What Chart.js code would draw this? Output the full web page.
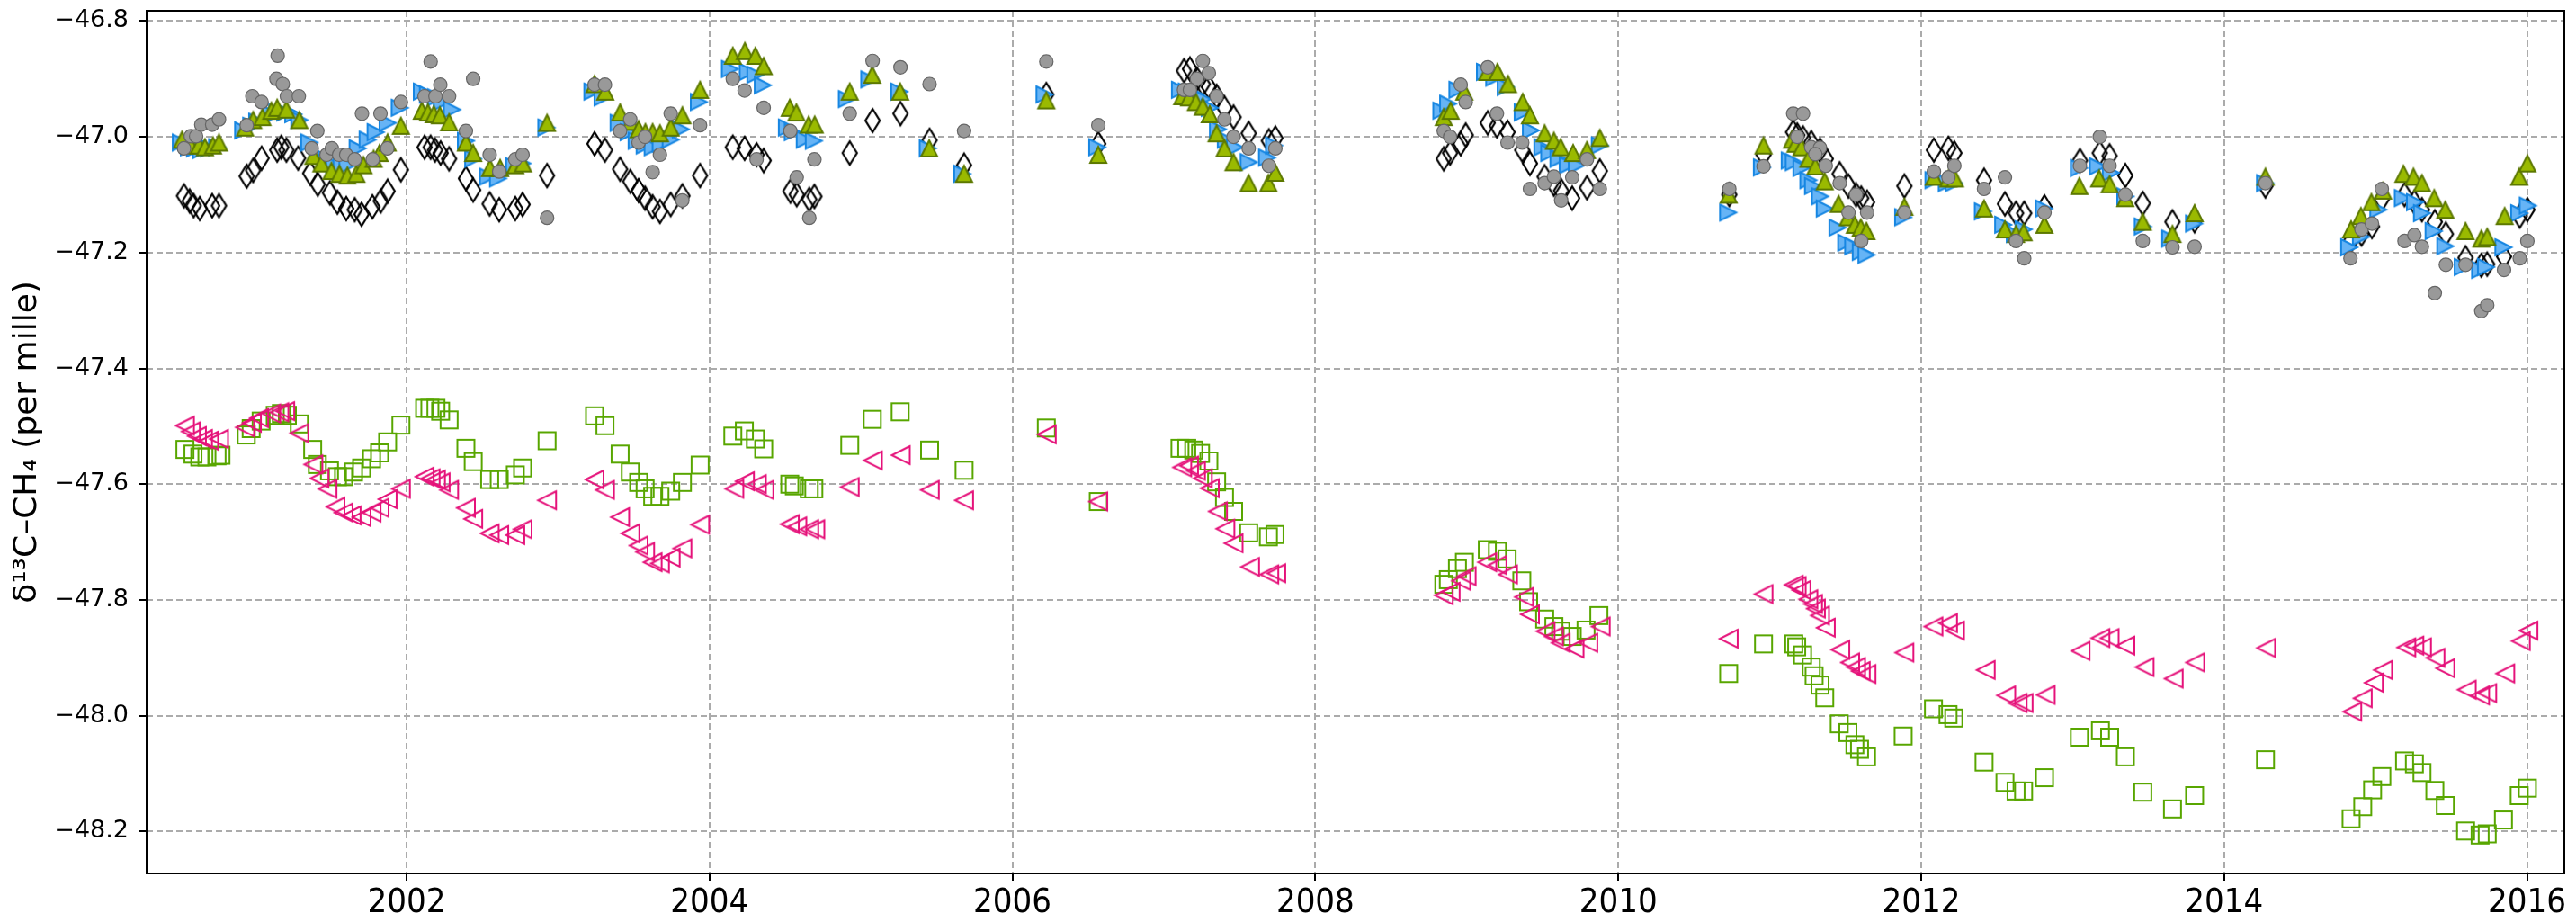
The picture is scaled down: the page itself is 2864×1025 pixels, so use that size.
<!DOCTYPE html>
<html>
<head>
<meta charset="utf-8">
<script src="https://cdn.jsdelivr.net/npm/chart.js@4.4.1/dist/chart.umd.min.js"></script>
<style>
html, body { margin: 0; padding: 0; background: #ffffff; }
canvas { display: block; }
</style>
</head>
<body>
<canvas id="d13cChart" width="2864" height="1025"></canvas>
<script>
// delta 13C of CH4 - six station records

const xTickYears = [2002, 2004, 2006, 2008, 2010, 2012, 2014, 2016];
const yTickValues = [-48.2, -48.0, -47.8, -47.6, -47.4, -47.2, -47.0, -46.8];

// grey circles
const circleYears = [2000.531, 2000.576, 2000.611, 2000.645, 2000.717, 2000.762, 2000.945, 2000.982, 2001.043, 2001.149,
    2001.141, 2001.183, 2001.210, 2001.289, 2001.411, 2001.374, 2001.472, 2001.507, 2001.555, 2001.602,
    2001.658, 2001.706, 2001.777, 2001.828, 2001.873, 2001.963, 2002.119, 2002.159, 2002.191, 2002.223,
    2002.281, 2002.392, 2002.440, 2002.549, 2002.612, 2002.718, 2002.766, 2002.928, 2003.241, 2003.310,
    2003.410, 2003.477, 2003.532, 2003.575, 2003.625, 2003.673, 2003.744, 2003.821, 2003.938, 2004.154,
    2004.232, 2004.358, 2004.311, 2004.534, 2004.576, 2004.693, 2004.659, 2004.926, 2005.077, 2005.261,
    2005.453, 2005.681, 2006.224, 2006.567, 2007.257, 2007.297, 2007.218, 2007.133, 2007.172, 2007.348,
    2007.400, 2007.460, 2007.560, 2007.736, 2007.693, 2008.848, 2008.890, 2008.960, 2008.993, 2009.138,
    2009.199, 2009.269, 2009.366, 2009.417, 2009.514, 2009.575, 2009.623, 2009.696, 2009.793, 2009.878,
    2010.733, 2010.959, 2011.155, 2011.220, 2011.182, 2011.274, 2011.332, 2011.301, 2011.370, 2011.462,
    2011.570, 2011.520, 2011.643, 2011.604, 2011.889, 2012.084, 2012.180, 2012.219, 2012.415, 2012.553,
    2012.626, 2012.680, 2012.814, 2013.048, 2013.179, 2013.244, 2013.348, 2013.463, 2013.659, 2013.805,
    2014.273, 2014.834, 2014.907, 2014.976, 2015.041, 2015.191, 2015.256, 2015.306, 2015.391, 2015.464,
    2015.594, 2015.698, 2015.737, 2015.848, 2015.952, 2016.002];
const circleValues = [-47.020, -46.999, -46.999, -46.979, -46.979, -46.970, -46.980, -46.930, -46.940, -46.860,
    -46.900, -46.909, -46.930, -46.930, -46.990, -47.020, -47.031, -47.020, -47.031, -47.031,
    -47.039, -46.960, -47.039, -46.960, -47.020, -46.940, -46.930, -46.870, -46.930, -46.910,
    -46.930, -46.990, -46.900, -47.031, -47.060, -47.039, -47.031, -47.140, -46.910, -46.910,
    -46.990, -46.970, -47.010, -47.000, -47.061, -47.031, -46.960, -47.110, -46.980, -46.900,
    -46.920, -46.950, -47.039, -46.990, -47.070, -47.039, -47.140, -46.960, -46.869, -46.880,
    -46.909, -46.990, -46.870, -46.980, -46.869, -46.890, -46.900, -46.919, -46.919, -46.930,
    -46.970, -47.000, -47.020, -47.020, -47.050, -46.990, -47.000, -46.910, -46.940, -46.880,
    -46.960, -47.010, -47.010, -47.090, -47.080, -47.069, -47.110, -47.070, -47.039, -47.090,
    -47.090, -47.051, -46.960, -46.960, -47.000, -47.018, -47.019, -47.030, -47.050, -47.080,
    -47.100, -47.131, -47.131, -47.180, -47.131, -47.060, -47.070, -47.050, -47.090, -47.070,
    -47.180, -47.210, -47.131, -47.050, -47.000, -47.050, -47.100, -47.180, -47.191, -47.190,
    -47.080, -47.210, -47.160, -47.150, -47.090, -47.180, -47.170, -47.190, -47.270, -47.221,
    -47.221, -47.301, -47.291, -47.230, -47.210, -47.180];

// open black diamonds
const diamondYears = [2000.531, 2000.568, 2000.595, 2000.635, 2000.717, 2000.762, 2000.945, 2000.987, 2001.043, 2001.146,
    2001.173, 2001.207, 2001.284, 2001.364, 2001.414, 2001.494, 2001.544, 2001.602, 2001.658, 2001.703,
    2001.775, 2001.830, 2001.875, 2001.963, 2002.119, 2002.159, 2002.188, 2002.225, 2002.281, 2002.392,
    2002.440, 2002.549, 2002.612, 2002.718, 2002.766, 2002.928, 2003.241, 2003.310, 2003.410, 2003.477,
    2003.532, 2003.575, 2003.625, 2003.673, 2003.744, 2003.821, 2003.938, 2004.154, 2004.232, 2004.311,
    2004.358, 2004.534, 2004.576, 2004.659, 2004.693, 2004.926, 2005.077, 2005.261, 2005.453, 2005.681,
    2006.224, 2006.567, 2007.133, 2007.172, 2007.218, 2007.257, 2007.297, 2007.348, 2007.400, 2007.460,
    2007.560, 2007.693, 2007.736, 2008.848, 2008.890, 2008.960, 2008.993, 2009.138, 2009.199, 2009.269,
    2009.366, 2009.417, 2009.514, 2009.575, 2009.623, 2009.696, 2009.793, 2009.878, 2010.733, 2010.959,
    2011.155, 2011.182, 2011.220, 2011.274, 2011.332, 2011.370, 2011.462, 2011.520, 2011.570, 2011.604,
    2011.643, 2011.889, 2012.084, 2012.180, 2012.219, 2012.415, 2012.553, 2012.626, 2012.680, 2012.814,
    2013.048, 2013.179, 2013.244, 2013.348, 2013.463, 2013.659, 2013.805, 2014.273, 2014.834, 2014.907,
    2014.976, 2015.041, 2015.191, 2015.256, 2015.306, 2015.391, 2015.464, 2015.594, 2015.698, 2015.737,
    2015.848, 2015.952, 2016.002];
const diamondValues = [-47.102, -47.111, -47.119, -47.124, -47.119, -47.119, -47.068, -47.058, -47.037, -47.023,
    -47.018, -47.023, -47.037, -47.063, -47.082, -47.097, -47.113, -47.124, -47.126, -47.134,
    -47.121, -47.111, -47.094, -47.057, -47.018, -47.018, -47.023, -47.028, -47.038, -47.072,
    -47.092, -47.116, -47.126, -47.124, -47.117, -47.067, -47.012, -47.023, -47.056, -47.077,
    -47.093, -47.106, -47.121, -47.129, -47.117, -47.102, -47.067, -47.018, -47.020, -47.031,
    -47.041, -47.094, -47.100, -47.108, -47.103, -47.028, -46.972, -46.960, -47.006, -47.049,
    -46.927, -47.012, -46.886, -46.883, -46.900, -46.909, -46.914, -46.930, -46.950, -46.966,
    -46.994, -47.007, -47.002, -47.038, -47.028, -47.012, -46.997, -46.976, -46.981, -46.992,
    -47.023, -47.046, -47.069, -47.082, -47.093, -47.106, -47.088, -47.059, -47.100, -47.031,
    -46.992, -46.997, -47.002, -47.010, -47.023, -47.038, -47.064, -47.085, -47.100, -47.106,
    -47.113, -47.085, -47.023, -47.020, -47.028, -47.075, -47.116, -47.132, -47.132, -47.121,
    -47.041, -47.028, -47.033, -47.067, -47.115, -47.147, -47.145, -47.085, -47.181, -47.168,
    -47.155, -47.108, -47.100, -47.113, -47.126, -47.147, -47.168, -47.209, -47.222, -47.220,
    -47.207, -47.137, -47.126];

// blue right-pointing triangles
const blueYears = [2000.510, 2000.563, 2000.603, 2000.643, 2000.696, 2000.749, 2000.921, 2000.974, 2001.014, 2001.107,
    2001.146, 2001.199, 2001.252, 2001.292, 2001.358, 2001.411, 2001.472, 2001.523, 2001.571, 2001.610,
    2001.677, 2001.743, 2001.796, 2001.875, 2001.955, 2002.101, 2002.141, 2002.194, 2002.233, 2002.300,
    2002.392, 2002.440, 2002.538, 2002.604, 2002.711, 2002.764, 2002.923, 2003.227, 2003.294, 2003.400,
    2003.466, 2003.519, 2003.572, 2003.625, 2003.678, 2003.744, 2003.811, 2003.930, 2004.135, 2004.253,
    2004.303, 2004.352, 2004.511, 2004.550, 2004.629, 2004.689, 2004.907, 2005.055, 2005.253, 2005.441,
    2005.669, 2006.212, 2006.560, 2007.106, 2007.151, 2007.206, 2007.257, 2007.303, 2007.357, 2007.409,
    2007.469, 2007.560, 2007.681, 2007.727, 2008.832, 2008.877, 2008.938, 2009.120, 2009.181, 2009.257,
    2009.369, 2009.423, 2009.499, 2009.544, 2009.605, 2009.666, 2009.726, 2009.878, 2010.725, 2010.948,
    2011.132, 2011.159, 2011.209, 2011.255, 2011.286, 2011.332, 2011.363, 2011.447, 2011.505, 2011.551,
    2011.601, 2011.639, 2011.881, 2012.081, 2012.169, 2012.215, 2012.407, 2012.541, 2012.618, 2012.676,
    2012.810, 2013.041, 2013.167, 2013.252, 2013.348, 2013.463, 2013.644, 2013.801, 2014.270, 2014.826,
    2014.903, 2015.018, 2015.180, 2015.260, 2015.306, 2015.383, 2015.460, 2015.575, 2015.690, 2015.729,
    2015.844, 2015.948, 2016.005];
const blueValues = [-47.010, -47.018, -47.020, -47.023, -47.020, -47.018, -46.989, -46.981, -46.974, -46.961,
    -46.958, -46.958, -46.961, -46.971, -47.010, -47.031, -47.044, -47.049, -47.049, -47.049,
    -47.020, -47.005, -46.992, -46.976, -46.950, -46.922, -46.927, -46.932, -46.940, -46.953,
    -47.007, -47.038, -47.069, -47.072, -47.051, -47.046, -46.984, -46.922, -46.932, -46.976,
    -46.992, -47.007, -47.015, -47.018, -47.012, -47.005, -46.987, -46.940, -46.883, -46.888,
    -46.893, -46.911, -46.984, -46.992, -47.005, -47.007, -46.935, -46.901, -46.922, -47.020,
    -47.064, -46.927, -47.018, -46.919, -46.922, -46.927, -46.935, -46.950, -46.987, -47.005,
    -47.018, -47.044, -47.036, -47.015, -46.955, -46.943, -46.919, -46.888, -46.898, -46.914,
    -46.958, -46.989, -47.018, -47.028, -47.038, -47.049, -47.049, -47.015, -47.131, -47.053,
    -47.041, -47.044, -47.054, -47.075, -47.085, -47.103, -47.124, -47.157, -47.183, -47.189,
    -47.199, -47.204, -47.139, -47.075, -47.080, -47.080, -47.129, -47.152, -47.168, -47.160,
    -47.124, -47.054, -47.051, -47.062, -47.103, -47.155, -47.176, -47.150, -47.080, -47.191,
    -47.173, -47.126, -47.106, -47.113, -47.132, -47.163, -47.189, -47.225, -47.230, -47.225,
    -47.191, -47.132, -47.119];

// olive upward triangles
const oliveYears = [2000.518, 2000.576, 2000.629, 2000.669, 2000.722, 2000.762, 2000.934, 2000.987, 2001.048, 2001.107,
    2001.146, 2001.207, 2001.292, 2001.385, 2001.438, 2001.504, 2001.557, 2001.610, 2001.669, 2001.716,
    2001.783, 2001.822, 2001.875, 2001.963, 2002.101, 2002.141, 2002.180, 2002.220, 2002.281, 2002.392,
    2002.440, 2002.551, 2002.618, 2002.718, 2002.769, 2002.928, 2003.241, 2003.312, 2003.410, 2003.479,
    2003.532, 2003.577, 2003.625, 2003.673, 2003.744, 2003.821, 2003.938, 2004.154, 2004.234, 2004.303,
    2004.358, 2004.530, 2004.574, 2004.655, 2004.695, 2004.926, 2005.075, 2005.259, 2005.451, 2005.681,
    2006.224, 2006.567, 2007.121, 2007.166, 2007.212, 2007.257, 2007.303, 2007.348, 2007.400, 2007.460,
    2007.560, 2007.690, 2007.736, 2008.848, 2008.893, 2008.984, 2009.135, 2009.202, 2009.272, 2009.369,
    2009.417, 2009.514, 2009.575, 2009.620, 2009.702, 2009.793, 2009.878, 2010.729, 2010.959, 2011.147,
    2011.171, 2011.209, 2011.255, 2011.301, 2011.363, 2011.455, 2011.516, 2011.562, 2011.601, 2011.639,
    2011.889, 2012.084, 2012.180, 2012.223, 2012.415, 2012.553, 2012.626, 2012.676, 2012.814, 2013.044,
    2013.175, 2013.244, 2013.348, 2013.463, 2013.659, 2013.805, 2014.273, 2014.838, 2014.903, 2014.972,
    2015.049, 2015.184, 2015.250, 2015.306, 2015.387, 2015.460, 2015.594, 2015.698, 2015.737, 2015.852,
    2015.948, 2016.002];
const oliveValues = [-47.005, -47.015, -47.015, -47.018, -47.015, -47.010, -46.984, -46.971, -46.966, -46.955,
    -46.950, -46.953, -46.971, -47.033, -47.046, -47.059, -47.064, -47.067, -47.064, -47.049,
    -47.038, -47.028, -47.010, -46.981, -46.955, -46.958, -46.961, -46.963, -46.975, -47.010,
    -47.028, -47.054, -47.054, -47.049, -47.046, -46.976, -46.909, -46.922, -46.958, -46.974,
    -46.987, -46.992, -46.992, -46.994, -46.984, -46.963, -46.919, -46.860, -46.852, -46.860,
    -46.878, -46.950, -46.958, -46.979, -46.979, -46.922, -46.893, -46.922, -47.020, -47.064,
    -46.937, -47.031, -46.930, -46.932, -46.940, -46.948, -46.961, -46.994, -47.020, -47.044,
    -47.080, -47.080, -47.062, -46.966, -46.955, -46.922, -46.888, -46.888, -46.909, -46.940,
    -46.963, -46.994, -47.007, -47.018, -47.028, -47.023, -47.002, -47.100, -47.015, -47.005,
    -47.012, -47.018, -47.038, -47.051, -47.077, -47.116, -47.139, -47.152, -47.157, -47.163,
    -47.121, -47.069, -47.072, -47.072, -47.124, -47.160, -47.168, -47.165, -47.152, -47.085,
    -47.072, -47.082, -47.106, -47.147, -47.168, -47.132, -47.069, -47.160, -47.137, -47.113,
    -47.093, -47.064, -47.069, -47.080, -47.106, -47.126, -47.163, -47.176, -47.173, -47.137,
    -47.069, -47.046];

// open magenta left-pointing triangles
const magentaYears = [2000.537, 2000.576, 2000.616, 2000.656, 2000.696, 2000.762, 2000.934, 2000.979, 2001.027, 2001.107,
    2001.160, 2001.199, 2001.292, 2001.385, 2001.425, 2001.478, 2001.531, 2001.584, 2001.637, 2001.703,
    2001.769, 2001.822, 2001.875, 2001.963, 2002.119, 2002.159, 2002.194, 2002.225, 2002.281, 2002.392,
    2002.440, 2002.549, 2002.612, 2002.718, 2002.766, 2002.928, 2003.241, 2003.310, 2003.410, 2003.477,
    2003.532, 2003.575, 2003.625, 2003.673, 2003.744, 2003.821, 2003.938, 2004.164, 2004.234, 2004.313,
    2004.362, 2004.530, 2004.580, 2004.659, 2004.699, 2004.926, 2005.079, 2005.263, 2005.455, 2005.681,
    2006.227, 2006.567, 2007.121, 2007.166, 2007.212, 2007.257, 2007.303, 2007.357, 2007.406, 2007.460,
    2007.569, 2007.696, 2007.742, 2008.848, 2008.893, 2008.963, 2008.999, 2009.135, 2009.202, 2009.272,
    2009.378, 2009.417, 2009.520, 2009.575, 2009.620, 2009.711, 2009.802, 2009.884, 2010.729, 2010.959,
    2011.159, 2011.178, 2011.209, 2011.255, 2011.286, 2011.305, 2011.332, 2011.370, 2011.466, 2011.531,
    2011.570, 2011.601, 2011.639, 2011.889, 2012.081, 2012.177, 2012.223, 2012.426, 2012.561, 2012.637,
    2012.676, 2012.822, 2013.052, 2013.183, 2013.244, 2013.348, 2013.475, 2013.667, 2013.809, 2014.277,
    2014.846, 2014.915, 2014.988, 2015.049, 2015.203, 2015.256, 2015.306, 2015.395, 2015.460, 2015.602,
    2015.690, 2015.737, 2015.856, 2015.959, 2016.009];
const magentaValues = [-47.499, -47.509, -47.517, -47.522, -47.525, -47.522, -47.502, -47.494, -47.486, -47.478,
    -47.476, -47.474, -47.512, -47.566, -47.590, -47.608, -47.639, -47.649, -47.654, -47.657,
    -47.649, -47.641, -47.626, -47.608, -47.587, -47.590, -47.592, -47.597, -47.610, -47.641,
    -47.660, -47.685, -47.688, -47.688, -47.678, -47.628, -47.592, -47.610, -47.657, -47.685,
    -47.706, -47.717, -47.735, -47.737, -47.727, -47.711, -47.670, -47.608, -47.595, -47.600,
    -47.610, -47.669, -47.673, -47.678, -47.678, -47.605, -47.559, -47.550, -47.610, -47.628,
    -47.514, -47.630, -47.571, -47.568, -47.577, -47.590, -47.607, -47.647, -47.677, -47.702,
    -47.743, -47.756, -47.754, -47.792, -47.786, -47.767, -47.759, -47.735, -47.740, -47.756,
    -47.795, -47.825, -47.854, -47.863, -47.874, -47.884, -47.874, -47.846, -47.867, -47.790,
    -47.774, -47.776, -47.783, -47.799, -47.807, -47.815, -47.827, -47.848, -47.886, -47.908,
    -47.916, -47.923, -47.928, -47.891, -47.846, -47.840, -47.853, -47.921, -47.965, -47.978,
    -47.978, -47.964, -47.888, -47.866, -47.866, -47.879, -47.916, -47.936, -47.908, -47.883,
    -47.993, -47.970, -47.943, -47.921, -47.882, -47.879, -47.882, -47.900, -47.918, -47.955,
    -47.965, -47.961, -47.927, -47.871, -47.853];

// open green squares
const squareYears = [2000.537, 2000.590, 2000.635, 2000.682, 2000.749, 2000.775, 2000.942, 2000.974, 2001.040, 2001.133,
    2001.173, 2001.213, 2001.292, 2001.380, 2001.411, 2001.491, 2001.544, 2001.584, 2001.650, 2001.703,
    2001.769, 2001.822, 2001.875, 2001.963, 2002.119, 2002.154, 2002.194, 2002.225, 2002.281, 2002.392,
    2002.440, 2002.549, 2002.612, 2002.718, 2002.766, 2002.928, 2003.241, 2003.310, 2003.410, 2003.477,
    2003.532, 2003.575, 2003.625, 2003.673, 2003.744, 2003.821, 2003.938, 2004.154, 2004.230, 2004.303,
    2004.358, 2004.530, 2004.560, 2004.659, 2004.689, 2004.926, 2005.075, 2005.259, 2005.453, 2005.681,
    2006.224, 2006.567, 2007.106, 2007.151, 2007.197, 2007.242, 2007.297, 2007.348, 2007.400, 2007.460,
    2007.560, 2007.690, 2007.733, 2008.848, 2008.878, 2008.938, 2008.984, 2009.135, 2009.202, 2009.266,
    2009.363, 2009.408, 2009.514, 2009.575, 2009.620, 2009.696, 2009.787, 2009.872, 2010.729, 2010.959,
    2011.159, 2011.178, 2011.217, 2011.274, 2011.293, 2011.332, 2011.363, 2011.459, 2011.516, 2011.562,
    2011.593, 2011.639, 2011.881, 2012.081, 2012.177, 2012.215, 2012.415, 2012.553, 2012.626, 2012.676,
    2012.814, 2013.044, 2013.183, 2013.244, 2013.348, 2013.463, 2013.659, 2013.805, 2014.273, 2014.838,
    2014.915, 2014.980, 2015.041, 2015.191, 2015.256, 2015.306, 2015.391, 2015.460, 2015.594, 2015.690,
    2015.737, 2015.844, 2015.948, 2016.002];
const squareValues = [-47.540, -47.548, -47.553, -47.553, -47.551, -47.550, -47.515, -47.504, -47.491, -47.481,
    -47.478, -47.481, -47.496, -47.540, -47.566, -47.577, -47.587, -47.587, -47.579, -47.572,
    -47.556, -47.546, -47.527, -47.498, -47.469, -47.469, -47.469, -47.474, -47.489, -47.538,
    -47.561, -47.592, -47.592, -47.584, -47.572, -47.525, -47.482, -47.499, -47.548, -47.579,
    -47.597, -47.608, -47.621, -47.621, -47.612, -47.597, -47.567, -47.517, -47.508, -47.522,
    -47.539, -47.600, -47.603, -47.608, -47.608, -47.533, -47.488, -47.475, -47.541, -47.576,
    -47.503, -47.630, -47.538, -47.538, -47.541, -47.547, -47.560, -47.596, -47.623, -47.647,
    -47.684, -47.691, -47.687, -47.773, -47.765, -47.746, -47.735, -47.713, -47.716, -47.729,
    -47.767, -47.803, -47.833, -47.846, -47.854, -47.863, -47.852, -47.827, -47.927, -47.876,
    -47.876, -47.881, -47.895, -47.916, -47.931, -47.947, -47.969, -48.014, -48.029, -48.050,
    -48.058, -48.071, -48.035, -47.988, -47.998, -48.004, -48.080, -48.115, -48.130, -48.130,
    -48.107, -48.037, -48.026, -48.037, -48.071, -48.132, -48.161, -48.138, -48.076, -48.178,
    -48.157, -48.128, -48.105, -48.078, -48.083, -48.098, -48.129, -48.155, -48.199, -48.206,
    -48.204, -48.180, -48.138, -48.125];

const toPoints = (xs, ys) => xs.map((x, i) => ({ x: x, y: ys[i] }));

// small offscreen canvases used as point styles (matplotlib-like marker shapes)
function makeMarker(w, h, lw, draw) {
    const pad = Math.ceil(lw) + 1;
    const c = document.createElement('canvas');
    c.width = w + 2 * pad;
    c.height = h + 2 * pad;
    const g = c.getContext('2d');
    g.translate(pad, pad);
    g.lineWidth = lw;
    g.lineJoin = 'miter';
    draw(g, w, h);
    return c;
}

const diamondMarker = makeMarker(16, 26, 2.2, (g, w, h) => {
    g.beginPath();
    g.moveTo(w / 2, 0); g.lineTo(w, h / 2); g.lineTo(w / 2, h); g.lineTo(0, h / 2);
    g.closePath();
    g.strokeStyle = '#000000';
    g.stroke();
});

const rightTriMarker = makeMarker(18, 18, 2, (g, w, h) => {
    g.beginPath();
    g.moveTo(0, 0); g.lineTo(w, h / 2); g.lineTo(0, h);
    g.closePath();
    g.fillStyle = '#66b4f6';
    g.fill();
    g.strokeStyle = '#1686e2';
    g.stroke();
});

const upTriMarker = makeMarker(18, 18, 2, (g, w, h) => {
    g.beginPath();
    g.moveTo(w / 2, 0); g.lineTo(w, h); g.lineTo(0, h);
    g.closePath();
    g.fillStyle = '#9aba00';
    g.fill();
    g.strokeStyle = '#5c7800';
    g.stroke();
});

const leftTriMarker = makeMarker(20, 20, 2, (g, w, h) => {
    g.beginPath();
    g.moveTo(w, 0); g.lineTo(0, h / 2); g.lineTo(w, h);
    g.closePath();
    g.strokeStyle = '#e5127a';
    g.stroke();
});

const squareMarker = makeMarker(19, 19, 2, (g, w, h) => {
    g.strokeStyle = '#58a600';
    g.strokeRect(0, 0, w, h);
});

// dashed grid, black frame and outward tick marks, matplotlib style
const frameGridPlugin = {
    id: 'frameGrid',
    beforeDatasetsDraw(chart) {
        const { ctx, chartArea: a, scales } = chart;
        ctx.save();
        ctx.strokeStyle = '#ababab';
        ctx.lineWidth = 2;
        ctx.setLineDash([7, 4]);
        xTickYears.forEach(v => {
            const px = Math.round(scales.x.getPixelForValue(v));
            ctx.beginPath(); ctx.moveTo(px, a.top); ctx.lineTo(px, a.bottom); ctx.stroke();
        });
        yTickValues.forEach(v => {
            const py = Math.round(scales.y.getPixelForValue(v));
            ctx.beginPath(); ctx.moveTo(a.left, py); ctx.lineTo(a.right, py); ctx.stroke();
        });
        ctx.restore();
    },
    afterDatasetsDraw(chart) {
        const { ctx, chartArea: a, scales } = chart;
        ctx.save();
        ctx.strokeStyle = '#000000';
        ctx.lineWidth = 2;
        ctx.setLineDash([]);
        ctx.strokeRect(a.left, a.top, a.right - a.left, a.bottom - a.top);
        xTickYears.forEach(v => {
            const px = Math.round(scales.x.getPixelForValue(v));
            ctx.beginPath(); ctx.moveTo(px, a.bottom); ctx.lineTo(px, a.bottom + 8); ctx.stroke();
        });
        yTickValues.forEach(v => {
            const py = Math.round(scales.y.getPixelForValue(v));
            ctx.beginPath(); ctx.moveTo(a.left - 8, py); ctx.lineTo(a.left, py); ctx.stroke();
        });
        ctx.restore();
    }
};

const ctx = document.getElementById('d13cChart').getContext('2d');

new Chart(ctx, {
    type: 'scatter',
    plugins: [frameGridPlugin],
    data: {
        datasets: [
            { label: 'magenta', data: toPoints(magentaYears, magentaValues), pointStyle: leftTriMarker, pointRadius: 9 },
            { label: 'squares', data: toPoints(squareYears, squareValues), pointStyle: squareMarker, pointRadius: 9 },
            { label: 'circles', data: toPoints(circleYears, circleValues), pointStyle: 'circle', pointRadius: 7.5,
              backgroundColor: '#999999', borderColor: '#666666', borderWidth: 1.2 },
            { label: 'olive', data: toPoints(oliveYears, oliveValues), pointStyle: upTriMarker, pointRadius: 9 },
            { label: 'blue', data: toPoints(blueYears, blueValues), pointStyle: rightTriMarker, pointRadius: 9 },
            { label: 'diamonds', data: toPoints(diamondYears, diamondValues), pointStyle: diamondMarker, pointRadius: 9 }
        ]
    },
    options: {
        responsive: false,
        animation: false,
        events: [],
        layout: { padding: { left: 0, right: 13, top: 12, bottom: 0 } },
        plugins: {
            legend: { display: false },
            tooltip: { enabled: false }
        },
        scales: {
            x: {
                type: 'linear',
                min: 2000.284,
                max: 2016.246,
                grid: { display: false, drawTicks: false },
                border: { display: false },
                ticks: {
                    padding: 10,
                    color: '#000000',
                    font: { family: "'Liberation Sans Narrow', 'DejaVu Sans Condensed', 'Liberation Sans', sans-serif", size: 38 },
                    callback: v => String(v)
                },
                afterBuildTicks: scale => { scale.ticks = xTickYears.map(v => ({ value: v })); },
                afterFit: scale => {
                    scale.height = 54;
                    scale.paddingLeft = 0;
                    scale.paddingRight = 0;
                }
            },
            y: {
                type: 'linear',
                min: -48.2724,
                max: -46.7824,
                grid: { display: false, drawTicks: false },
                border: { display: false },
                ticks: {
                    padding: 20,
                    color: '#000000',
                    font: { family: "'DejaVu Sans', sans-serif", size: 27 },
                    callback: v => '\u2212' + Math.abs(v).toFixed(1)
                },
                title: {
                    display: true,
                    text: 'δ¹³C\u2013CH₄ (per mille)',
                    color: '#000000',
                    font: { family: "'DejaVu Sans', sans-serif", size: 36 },
                    padding: { top: 9, bottom: 0 }
                },
                afterBuildTicks: scale => { scale.ticks = yTickValues.map(v => ({ value: v })); },
                afterFit: scale => {
                    scale.width = 163;
                    scale.paddingTop = 0;
                    scale.paddingBottom = 0;
                }
            }
        }
    }
});
</script>
</body>
</html>
